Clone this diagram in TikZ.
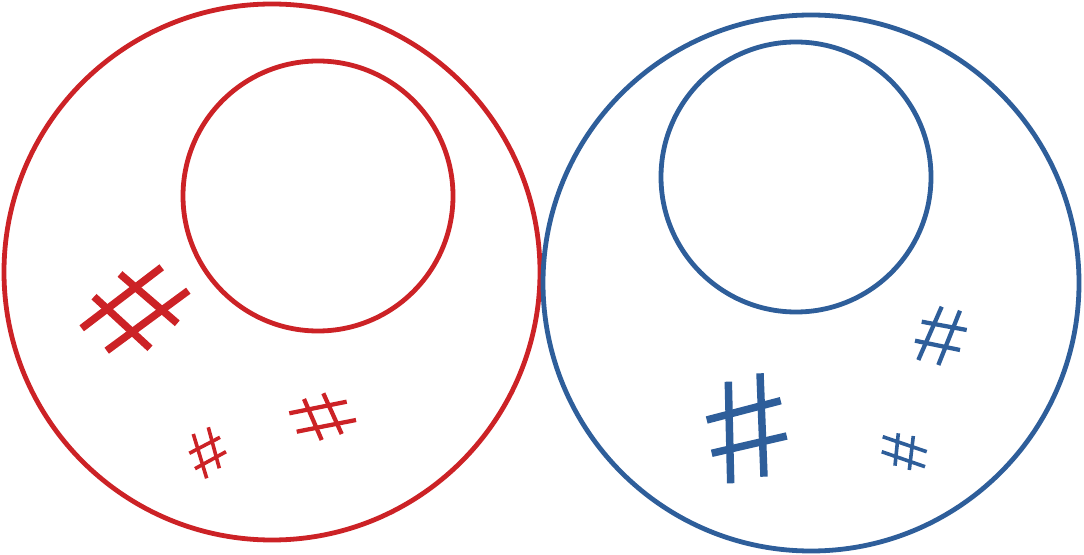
\documentclass[tikz,border=0pt]{standalone}
\usepackage{tikz}

\definecolor{setred}{RGB}{204,34,38}
\definecolor{setblue}{RGB}{46,94,154}

\begin{document}
\begin{tikzpicture}[x=0.75pt, y=-0.75pt,
    ring/.style={line width=3.6pt},
    hashthick/.style={line width=5.6pt},
    hashmid/.style={line width=3.2pt},
    hashthin/.style={line width=2.7pt}]
  \useasboundingbox (0,0) rectangle (1084,555);
  % --- red set ---
  \begin{scope}[setred]
    \draw[ring] (272,272) circle (268);
    \draw[ring] (318,196) circle (135);
    % big hash
    \draw[hashthick] (81.7,328.3) -- (161.7,267.3);
    \draw[hashthick] (106.7,350.7) -- (188.3,290.7);
    \draw[hashthick] (120,274) -- (177.3,323.3);
    \draw[hashthick] (94,296.7) -- (150,348.3);
    % medium hash
    \draw[hashmid] (304,399) -- (321.7,440);
    \draw[hashmid] (323.3,393.3) -- (341.7,434);
    \draw[hashmid] (289.3,413.3) -- (346.7,401.7);
    \draw[hashmid] (296.7,431.7) -- (356,420);
    % small hash
    \draw[hashthin] (193.3,434) -- (206.7,478.3);
    \draw[hashthin] (208.3,427.3) -- (219.3,468.3);
    \draw[hashthin] (189.3,453.3) -- (220,437.3);
    \draw[hashthin] (195,468.7) -- (226,451.7);
  \end{scope}
  % --- blue set ---
  \begin{scope}[setblue]
    \draw[ring] (811,283) circle (268);
    \draw[ring] (796,177) circle (135);
    % big hash
    \draw[hashthick] (728.3,381.7) -- (730.7,483.3);
    \draw[hashthick] (760,373.3) -- (764,476.7);
    \draw[hashthick] (706.7,420) -- (780.7,400.7);
    \draw[hashthick] (711.7,453.3) -- (786.7,436);
    % medium hash
    \draw[hashmid] (941.7,306.7) -- (918.3,360);
    \draw[hashmid] (960,310.7) -- (938.3,365);
    \draw[hashmid] (921.7,321.7) -- (966.7,330);
    \draw[hashmid] (915,340.7) -- (960,350);
    % small hash
    \draw[hashthin] (898.3,433.3) -- (895,465.7);
    \draw[hashthin] (913.3,436) -- (909.3,470);
    \draw[hashthin] (882.7,436.7) -- (926.7,451.7);
    \draw[hashthin] (881.7,451.7) -- (925,466.7);
  \end{scope}
\end{tikzpicture}
\end{document}
